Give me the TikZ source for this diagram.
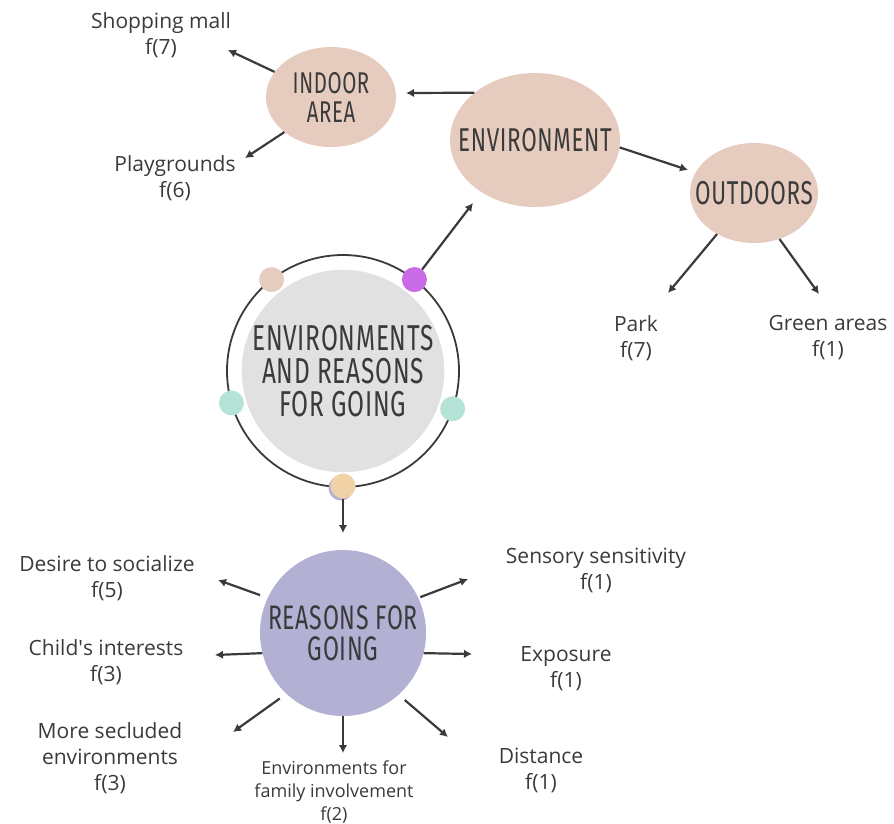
\documentclass[tikz,border=0pt]{standalone}
\usepackage{fontspec}
\setmainfont{Open Sans}
\newfontfamily\headfont[FakeStretch=0.68, LetterSpace=2]{Fira Sans}
\newcommand{\sq}{\XeTeXglyph\XeTeXcharglyph"0027\relax}
\usepackage{tikz}
\usetikzlibrary{arrows.meta,shapes.geometric}
\definecolor{ink}{HTML}{3A3A3A}
\definecolor{blush}{HTML}{E6CBBF}
\definecolor{lilac}{HTML}{B2B0D3}
\definecolor{fog}{HTML}{E1E1E1}
\definecolor{orchid}{HTML}{C96AE6}
\definecolor{mint}{HTML}{B5E3D8}
\definecolor{peach}{HTML}{F1D2A7}
\tikzset{
	blob/.style={ellipse, fill=blush, inner sep=-30pt, text=ink, align=center},
	lbl/.style={text=ink, align=center, font=\fontsize{21}{26}\selectfont},
	arr/.style={-{Latex[length=8pt,width=8.5pt]}, line width=2.2pt, draw=ink},
	dot/.style={circle, minimum size=25pt, inner sep=0pt}
}

\begin{document}
\begin{tikzpicture}[x=1pt, y=-1pt]
			\useasboundingbox (0,0) rectangle (894,823);
			
			\node[blob, minimum width=170pt, minimum height=134pt, font=\headfont\fontsize{33}{33}\selectfont] (env) at (535,140) {ENVIRONMENT};
			\node[blob, minimum width=130pt, minimum height=100pt, font=\headfont\fontsize{30}{29}\selectfont] (indoor) at (331,97) {INDOOR\\AREA};
			\node[blob, minimum width=128pt, minimum height=100pt, font=\headfont\fontsize{33}{33}\selectfont] (outdoor) at (754,193) {OUTDOORS};
			
			\node[lbl] (mall) at (161,35) {Shopping mall\\f(7)};
			\node[lbl] (play) at (175,178) {Playgrounds\\f(6)};
			\node[lbl] (park) at (636,338) {Park\\f(7)};
			\node[lbl] (green) at (828,338) {Green areas\\f(1)};
			
			\coordinate (tindoor) at (406,93);
			\coordinate (tmall) at (228,50);
			\coordinate (tplay) at (245,158);
			\coordinate (toutdoor) at (688,170);
			\coordinate (tpark) at (668,293);
			\coordinate (tgreen) at (819,294);
			
			\draw[arr] (env.142) -- (tindoor);
			\draw[arr] (indoor.156) -- (tmall);
			\draw[arr] (indoor.217) -- (tplay);
			\draw[arr] (env.355) -- (toutdoor);
			\draw[arr] (outdoor.228) -- (tpark);
			\draw[arr] (outdoor.299) -- (tgreen);
			
			\node[circle, fill=fog, minimum size=196pt, inner sep=0pt, text=ink, align=center, font=\headfont\fontsize{36}{33}\selectfont] (hub) at (343,371) {ENVIRONMENTS\\AND REASONS\\FOR GOING};
			\draw[ink, line width=1.8pt] (hub.center) circle (116pt);
			\node[dot, fill=blush] (dotA) at ([shift={(128:116pt)}]hub.center) {};
			\node[dot, fill=orchid] (dotB) at ([shift={(52:116pt)}]hub.center) {};
			\node[dot, fill=mint] (dotC) at ([shift={(196:116pt)}]hub.center) {};
			\node[dot, fill=mint] (dotD) at ([shift={(-19:116pt)}]hub.center) {};
			\node[dot, fill=lilac] (dotS) at ([shift={(269:117pt)}]hub.center) {};
			\node[dot, fill=peach] (dotE) at ([shift={(270:115pt)}]hub.center) {};
			
			\coordinate (tenv) at (473,203);
			\coordinate (trsn) at (343,533);
			\draw[arr] (dotB) -- (tenv);
			\draw[arr] (dotE) -- (trsn);
			
			\node[circle, fill=lilac, minimum size=166pt, inner sep=0pt, text=ink, align=center, font=\headfont\fontsize{34}{31}\selectfont] (rsn) at (343,633) {REASONS FOR\\GOING};
			
			\node[lbl] (desire) at (107,578) {Desire to socialize\\f(5)};
			\node[lbl] (child) at (106,662) {Child\sq s interests\\f(3)};
			\node[lbl] (seclu) at (110,758) {More secluded\\environments\\f(3)};
			\node[lbl, font=\fontsize{18}{23}\selectfont] (family) at (334,792) {Environments for\\family involvement\\f(2)};
			\node[lbl] (sensory) at (596,570) {Sensory sensitivity\\f(1)};
			\node[lbl] (expo) at (566,669) {Exposure\\f(1)};
			\node[lbl] (dist) at (541,770) {Distance\\f(1)};
			
			\coordinate (tdesire) at (218,580);
			\coordinate (tchild) at (215,655);
			\coordinate (tseclu) at (233,732);
			\coordinate (tfamily) at (343,753);
			\coordinate (tdist) at (448,737);
			\coordinate (texpo) at (472,654);
			\coordinate (tsensory) at (468,579);
			
			\draw[arr, shorten <=8pt] (rsn.155) -- (tdesire);
			\draw[arr] (rsn.194) -- (tchild);
			\draw[arr, shorten <=8pt] (rsn.227) -- (tseclu);
			\draw[arr] (rsn.270) -- (tfamily);
			\draw[arr, shorten <=8pt] (rsn.312) -- (tdist);
			\draw[arr] (rsn.346) -- (texpo);
			\draw[arr, shorten <=2pt] (rsn.25) -- (tsensory);
		\end{tikzpicture}
\end{document}
